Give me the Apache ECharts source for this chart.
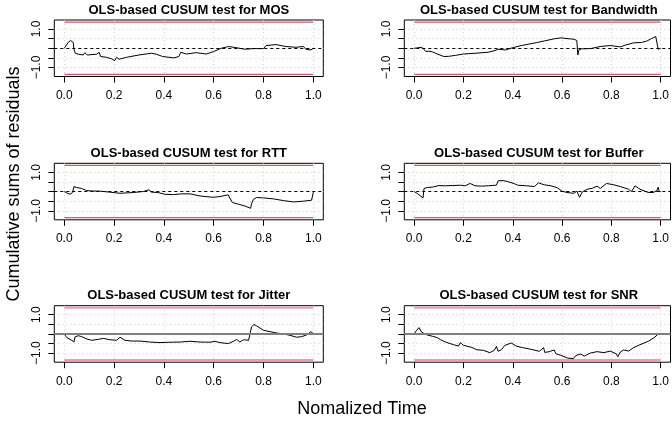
<!DOCTYPE html>
<html><head><meta charset="utf-8">
<script src="https://cdn.jsdelivr.net/npm/echarts@6/dist/echarts.min.js"></script>
<style>html,body{margin:0;padding:0;background:#fff}#c{width:672px;height:424px}</style>
</head><body><div id="c"></div>
<script>
// ---- data ----
const panelTitles = ["OLS-based CUSUM test for MOS","OLS-based CUSUM test for Bandwidth","OLS-based CUSUM test for RTT","OLS-based CUSUM test for Buffer","OLS-based CUSUM test for Jitter","OLS-based CUSUM test for SNR"];
const xTicks = [0, 0.2, 0.4, 0.6, 0.8, 1.0];
const yTicks = [-1, -0.5, 0, 0.5, 1];
const yLabels = [-1, 1];
const boundary = 1.358;
const mosCurve = [[0,0],[0.009,0.17],[0.016,0.31],[0.02,0.22],[0.026,0.4],[0.033,0.49],[0.036,0.3],[0.039,-0.05],[0.044,-0.26],[0.056,-0.31],[0.076,-0.35],[0.083,-0.23],[0.092,-0.35],[0.13,-0.31],[0.14,-0.21],[0.146,-0.43],[0.17,-0.47],[0.19,-0.55],[0.203,-0.64],[0.21,-0.47],[0.22,-0.57],[0.25,-0.47],[0.30,-0.35],[0.35,-0.26],[0.37,-0.31],[0.395,-0.43],[0.44,-0.5],[0.46,-0.43],[0.468,-0.21],[0.49,-0.3],[0.53,-0.23],[0.57,-0.3],[0.6,-0.17],[0.63,0],[0.66,0.09],[0.665,0.02],[0.69,0.03],[0.725,-0.05],[0.76,-0.02],[0.8,-0.02],[0.81,0.14],[0.85,0.19],[0.89,0.09],[0.93,0.05],[0.96,0.09],[0.97,-0.05],[0.99,-0.09],[1,0]];
const bandwidthCurve = [[0,0],[0.013,0.02],[0.027,0.05],[0.036,0],[0.047,-0.17],[0.06,-0.15],[0.074,-0.19],[0.087,-0.26],[0.12,-0.43],[0.14,-0.42],[0.167,-0.37],[0.2,-0.3],[0.247,-0.26],[0.3,-0.21],[0.328,-0.12],[0.34,-0.05],[0.348,-0.14],[0.37,-0.09],[0.4,0.03],[0.435,0.14],[0.475,0.24],[0.5,0.3],[0.528,0.38],[0.568,0.49],[0.595,0.54],[0.62,0.5],[0.628,0.42],[0.648,0.47],[0.66,0.4],[0.664,-0.35],[0.668,-0.09],[0.68,-0.03],[0.715,-0.02],[0.755,0.09],[0.795,0.14],[0.836,0.07],[0.856,0.16],[0.89,0.28],[0.922,0.3],[0.943,0.37],[0.963,0.5],[0.98,0.61],[0.984,0.55],[0.99,-0.05],[0.996,-0.14],[1,0]];
const rttCurve = [[0,0],[0.01,-0.07],[0.023,-0.14],[0.033,-0.05],[0.039,0.26],[0.05,0.21],[0.07,0.16],[0.09,0.05],[0.11,0.03],[0.143,0.02],[0.183,-0.03],[0.224,-0.09],[0.277,-0.05],[0.317,0],[0.34,0.09],[0.35,-0.03],[0.376,-0.05],[0.404,-0.14],[0.438,-0.16],[0.47,-0.12],[0.505,-0.12],[0.545,-0.23],[0.598,-0.3],[0.625,-0.26],[0.658,-0.17],[0.665,-0.21],[0.675,-0.57],[0.7,-0.66],[0.725,-0.75],[0.748,-0.87],[0.752,-0.63],[0.76,-0.4],[0.772,-0.31],[0.8,-0.33],[0.84,-0.38],[0.88,-0.47],[0.92,-0.54],[0.96,-0.5],[0.993,-0.45],[1,-0.03]];
const bufferCurve = [[0,0],[0.013,-0.1],[0.036,-0.33],[0.04,0.16],[0.053,0.21],[0.074,0.23],[0.1,0.31],[0.127,0.3],[0.154,0.31],[0.187,0.33],[0.207,0.3],[0.227,0.42],[0.247,0.3],[0.274,0.28],[0.3,0.3],[0.334,0.33],[0.341,0.56],[0.36,0.57],[0.38,0.52],[0.408,0.4],[0.42,0.33],[0.428,0.43],[0.455,0.3],[0.488,0.26],[0.504,0.45],[0.528,0.35],[0.555,0.3],[0.582,0.19],[0.6,0.02],[0.62,-0.05],[0.648,-0.09],[0.66,0.02],[0.671,-0.3],[0.682,-0.02],[0.702,0.12],[0.722,0.17],[0.742,0.28],[0.755,0.16],[0.78,0.42],[0.81,0.35],[0.836,0.26],[0.87,0.12],[0.882,0],[0.896,0.3],[0.916,0.12],[0.95,-0.05],[0.97,-0.05],[0.985,0.05],[0.99,0.23],[0.994,0],[1,0]];
const jitterCurve = [[0,0],[0.01,-0.19],[0.03,-0.33],[0.039,-0.42],[0.043,-0.16],[0.056,-0.09],[0.07,-0.14],[0.09,-0.26],[0.11,-0.33],[0.137,-0.28],[0.157,-0.23],[0.183,-0.3],[0.21,-0.33],[0.224,-0.17],[0.244,-0.33],[0.27,-0.37],[0.304,-0.37],[0.344,-0.42],[0.384,-0.45],[0.424,-0.43],[0.465,-0.42],[0.505,-0.38],[0.545,-0.42],[0.585,-0.43],[0.605,-0.38],[0.625,-0.45],[0.659,-0.5],[0.68,-0.38],[0.692,-0.28],[0.705,-0.42],[0.72,-0.3],[0.74,-0.33],[0.748,-0.3],[0.752,0.37],[0.762,0.49],[0.772,0.42],[0.78,0.47],[0.8,0.19],[0.826,0.12],[0.853,0.05],[0.88,0],[0.906,-0.07],[0.933,-0.17],[0.953,-0.14],[0.973,-0.05],[0.99,0.12],[1,0.02]];
const snrCurve = [[0,0],[0.01,0.19],[0.02,0.33],[0.03,0.1],[0.047,-0.03],[0.074,-0.12],[0.094,-0.19],[0.107,-0.3],[0.11,-0.21],[0.127,-0.42],[0.16,-0.56],[0.18,-0.63],[0.187,-0.45],[0.2,-0.59],[0.234,-0.7],[0.254,-0.82],[0.26,-0.73],[0.28,-0.85],[0.307,-0.97],[0.325,-0.85],[0.334,-0.64],[0.34,-0.9],[0.354,-0.82],[0.368,-0.59],[0.394,-0.47],[0.414,-0.63],[0.44,-0.71],[0.475,-0.8],[0.508,-0.9],[0.525,-0.71],[0.53,-0.96],[0.548,-0.92],[0.568,-0.83],[0.575,-1.03],[0.595,-1.11],[0.622,-1.25],[0.646,-1.29],[0.655,-1.13],[0.675,-1.04],[0.69,-1.15],[0.715,-0.99],[0.742,-0.92],[0.77,-0.97],[0.795,-0.89],[0.82,-1.03],[0.826,-1.18],[0.836,-0.94],[0.85,-0.83],[0.87,-0.89],[0.89,-0.71],[0.916,-0.56],[0.95,-0.38],[0.976,-0.17],[0.99,0],[1,-0.03]];
const curves = [mosCurve, bandwidthCurve, rttCurve, bufferCurve, jitterCurve, snrCurve];
const xLabelText = "Nomalized Time";
const yLabelText = "Cumulative sums of residuals";

// ---- layout ----
const colLeft = [54.3, 404.3], gridW = 269;
const rowTop = [20, 163.3, 305.7], gridH = 56.5;
const yLim = 1.467;
const FONT = "'Liberation Sans', Arial, Helvetica, sans-serif";

const grids = [], xAxes = [], yAxes = [], series = [], graphics = [];
for (let i = 0; i < 6; i++) {
  const r = Math.floor(i / 2), c = i % 2;
  const lastRow = r === 2;
  grids.push({left: colLeft[c], top: rowTop[r], width: gridW, height: gridH, show: true, borderColor: '#000', borderWidth: 1, backgroundColor: 'transparent'});
  xAxes.push({type: 'value', gridIndex: i, min: -0.04, max: 1.04, position: 'bottom',
    axisLine: {show: false, onZero: false},
    axisTick: {show: true, length: 6, customValues: xTicks, lineStyle: {color: '#000'}},
    axisLabel: {customValues: xTicks, margin: 13, color: '#000', fontSize: 12, fontFamily: FONT, formatter: v => v.toFixed(1)},
    splitLine: {show: true, lineStyle: {color: '#cfcfcf', type: [1, 3], width: 1}}});
  yAxes.push({type: 'value', gridIndex: i, min: -yLim, max: yLim, position: 'left',
    axisLine: {show: false, onZero: false},
    axisTick: {show: true, length: 6, customValues: yTicks, lineStyle: {color: '#000'}},
    axisLabel: {customValues: yLabels, rotate: 90, margin: 12, color: '#000', fontSize: 12, fontFamily: FONT,
      formatter: v => (v < 0 ? '\u2212' : '') + Math.abs(v).toFixed(1)},
    splitLine: {show: true, lineStyle: {color: '#cfcfcf', type: [1, 3], width: 1}}});
  const bColor = lastRow ? '#EE9CAC' : '#DF536B';
  const bWidth = lastRow ? 2 : 1.2;
  series.push({type: 'line', xAxisIndex: i, yAxisIndex: i, data: [[0, boundary], [1, boundary]], symbol: 'none', silent: true, lineStyle: {color: bColor, width: bWidth}, z: 2});
  series.push({type: 'line', xAxisIndex: i, yAxisIndex: i, data: [[0, -boundary], [1, -boundary]], symbol: 'none', silent: true, lineStyle: {color: bColor, width: bWidth}, z: 2});
  series.push({type: 'line', xAxisIndex: i, yAxisIndex: i, data: curves[i], symbol: 'none', silent: true,
    lineStyle: {color: '#000', width: 1}, z: 4,
    markLine: {silent: true, symbol: 'none', label: {show: false},
      lineStyle: lastRow ? {color: '#7f7f7f', width: 2, type: 'solid'} : {color: '#000', width: 1, type: [3, 3]},
      data: [{yAxis: 0}]}});
  graphics.push({type: 'text', x: colLeft[c] + gridW / 2, y: rowTop[r] - 10,
    style: {text: panelTitles[i], font: "bold 13px " + FONT, fill: '#000', textAlign: 'center', textVerticalAlign: 'middle'}});
}
graphics.push({type: 'text', x: 362, y: 409, style: {text: xLabelText, font: "18px " + FONT, fill: '#000', textAlign: 'center', textVerticalAlign: 'middle'}});
graphics.push({type: 'text', x: 14, y: 184, rotation: Math.PI / 2, style: {text: yLabelText, font: "18px " + FONT, fill: '#000', textAlign: 'center', textVerticalAlign: 'middle'}});

const chart = echarts.init(document.getElementById('c'), null, {renderer: 'canvas'});
chart.setOption({animation: false, backgroundColor: '#fff', grid: grids, xAxis: xAxes, yAxis: yAxes, series: series, graphic: graphics});
</script></body></html>
